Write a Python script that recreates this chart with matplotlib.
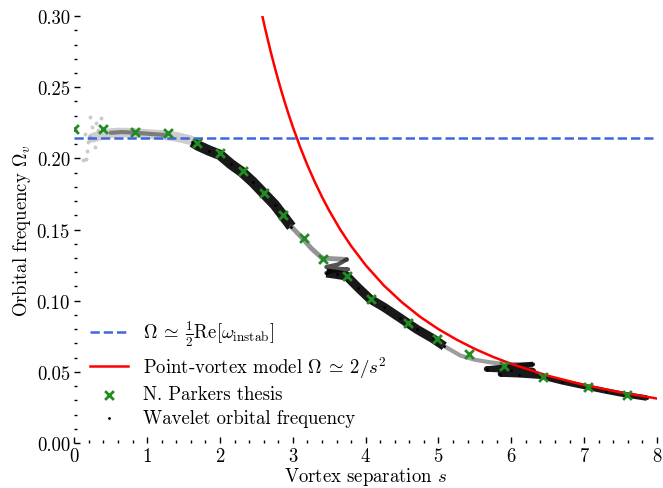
import matplotlib
matplotlib.use("Agg")
import matplotlib.pyplot as plt
from matplotlib.ticker import MultipleLocator

plt.rcParams.update({
    "font.family": "serif",
    "font.serif": ["cmr10"],
    "mathtext.fontset": "cm",
    "axes.formatter.use_mathtext": True,
    "axes.unicode_minus": False,
    "font.size": 13.5,
})

# instability frequency (horizontal line)
omega_instab = 0.2145

# point-vortex model
pv_s = [2.58, 2.62, 2.66, 2.7, 2.75, 2.8, 2.85, 2.9, 2.95, 3.0, 3.1, 3.2, 3.3, 3.4, 3.5,
        3.65, 3.8, 4.0, 4.25, 4.5, 4.75, 5.0, 5.25, 5.5, 5.75, 6.0, 6.5, 7.0, 7.5, 8.0]
pv_omega = [0.3005, 0.2914, 0.2827, 0.2743, 0.2645, 0.2551, 0.2462, 0.2378, 0.2298, 0.2222,
            0.2081, 0.1953, 0.1837, 0.1730, 0.1633, 0.1501, 0.1385, 0.1250, 0.1107, 0.0988,
            0.0886, 0.0800, 0.0726, 0.0661, 0.0605, 0.0556, 0.0473, 0.0408, 0.0356, 0.03125]

# N. Parker thesis points
np_s = [0.0, 0.40, 0.84, 1.28, 1.68, 2.0, 2.31, 2.61, 2.87, 3.15, 3.41, 3.74, 4.07,
        4.58, 4.98, 5.42, 5.90, 6.43, 7.05, 7.59]
np_omega = [0.2205, 0.2205, 0.2188, 0.2178, 0.2105, 0.2035, 0.1915, 0.1758, 0.1600, 0.1440,
            0.1290, 0.1175, 0.1012, 0.0844, 0.0731, 0.0626, 0.0541, 0.0464, 0.0394, 0.0337]

# wavelet orbital frequency trace, in time order, split by density
wl_early_s = [0.25, 0.35, 0.45, 0.6, 0.8, 1.0, 1.2, 1.4, 1.6]
wl_early_o = [0.2145, 0.2160, 0.2175, 0.2182, 0.2180, 0.2172, 0.2165, 0.2152, 0.2128]
wl_core_s = [0.5, 0.65, 0.8, 0.95, 1.1, 1.25]
wl_core_o = [0.2180, 0.2185, 0.2182, 0.2176, 0.2170, 0.2165]
wl_a_s = [1.62, 1.7, 1.85, 2.0, 2.15, 2.3, 2.45, 2.6, 2.75, 2.87, 2.98]
wl_a_o = [0.2115, 0.209, 0.2055, 0.2025, 0.196, 0.1905, 0.1835, 0.1755, 0.1675, 0.1595, 0.152]
wl_b_s = [2.98, 3.14, 3.25, 3.4, 3.55, 3.74]
wl_b_o = [0.152, 0.1435, 0.137, 0.130, 0.1295, 0.129]
wl_z_s = [3.74, 3.62, 3.46, 3.60, 3.76, 3.55, 3.46]
wl_z_o = [0.129, 0.1255, 0.1237, 0.1225, 0.122, 0.121, 0.1195]
wl_c_s = [3.46, 3.6, 3.74, 3.9, 4.06, 4.25, 4.47, 4.7, 4.92, 5.08]
wl_c_o = [0.1195, 0.1185, 0.1173, 0.109, 0.1012, 0.0955, 0.0880, 0.0800, 0.0735, 0.068]
wl_d_s = [5.08, 5.3, 5.5, 5.7, 5.9, 6.05, 6.3]
wl_d_o = [0.068, 0.0615, 0.0585, 0.0568, 0.0555, 0.0555, 0.0555]
wl_e_s = [6.3, 5.66, 6.0, 6.3, 5.85, 6.1, 6.39, 6.7, 7.04, 7.3, 7.59, 7.86]
wl_e_o = [0.0552, 0.052, 0.0512, 0.0508, 0.0485, 0.048, 0.047, 0.0430, 0.0393, 0.0365, 0.0337, 0.0316]
# sparse scattered points at small separation
wl_sparse_s = [0.12, 0.16, 0.18, 0.19, 0.21, 0.25, 0.37, 0.30, 0.22, 0.28, 0.15, 0.33]
wl_sparse_o = [0.1990, 0.1995, 0.2054, 0.2115, 0.2288, 0.2220, 0.2283, 0.2250, 0.2150, 0.2080,
               0.2170, 0.2200]

fig, ax = plt.subplots(figsize=(6.63, 4.89), dpi=100)
fig.subplots_adjust(left=0.112, right=0.991, top=0.965, bottom=0.092)

ax.scatter(wl_sparse_s, wl_sparse_o, s=8, color="0.55", alpha=0.45, lw=0, zorder=2)
ax.plot(wl_early_s, wl_early_o, color="0.45", lw=7, alpha=0.35, solid_capstyle="round", zorder=2)
ax.plot(wl_core_s, wl_core_o, color="0.1", lw=3, alpha=0.45, solid_capstyle="round", zorder=2)
ax.plot(wl_a_s, wl_a_o, color="k", lw=7.5, alpha=0.9, solid_capstyle="butt", zorder=2)
ax.plot(wl_b_s, wl_b_o, color="0.3", lw=3.5, alpha=0.6, solid_capstyle="round", zorder=2)
ax.plot(wl_z_s, wl_z_o, color="0.1", lw=3, alpha=0.75, solid_capstyle="round", zorder=2)
ax.plot(wl_c_s, wl_c_o, color="k", lw=6.5, alpha=0.9, solid_capstyle="butt", zorder=2)
ax.plot(wl_d_s, wl_d_o, color="0.3", lw=3, alpha=0.55, solid_capstyle="round", zorder=2)
ax.plot(wl_e_s, wl_e_o, color="k", lw=4, alpha=0.9, solid_capstyle="butt", zorder=2)
wl = ax.scatter(wl_a_s + wl_c_s + wl_e_s, wl_a_o + wl_c_o + wl_e_o, s=4, color="k",
                lw=0, zorder=2, label="Wavelet orbital frequency")

hl = ax.axhline(omega_instab, color="#3f66e0", ls="--", lw=1.8, zorder=3,
                label=r"$\Omega \:\simeq\: \frac{1}{2}\mathrm{Re}[\omega_{\mathrm{instab}}]$")
pv, = ax.plot(pv_s, pv_omega, color="red", lw=1.8, zorder=3,
              label=r"Point-vortex model $\Omega \:\simeq\: 2/s^2$")
npk = ax.scatter(np_s, np_omega, marker="x", s=40, linewidths=2, color="#228b22",
                 zorder=4, label="N. Parkers thesis")

ax.set_xlim(0, 8)
ax.set_ylim(0, 0.30)
ax.set_xlabel(r"Vortex separation $s$", labelpad=0)
ax.set_ylabel(r"Orbital frequency $\Omega_v$", labelpad=3)

ax.xaxis.set_major_locator(MultipleLocator(1))
ax.xaxis.set_minor_locator(MultipleLocator(0.2))
ax.yaxis.set_major_locator(MultipleLocator(0.05))
ax.yaxis.set_minor_locator(MultipleLocator(0.01))
ax.yaxis.set_major_formatter(matplotlib.ticker.FormatStrFormatter("%.2f"))
for sp in ax.spines.values():
    sp.set_visible(False)
ax.tick_params(which="major", direction="in", length=4, width=1, pad=3)
ax.tick_params(which="minor", direction="in", length=2, width=1)

ax.legend(handles=[hl, pv, npk, wl], loc="lower left", frameon=False,
          bbox_to_anchor=(0.0, 0.0), handlelength=2.0, labelspacing=0.3,
          borderaxespad=0.45, handletextpad=0.8)

fig.savefig("out.png", dpi=100)
